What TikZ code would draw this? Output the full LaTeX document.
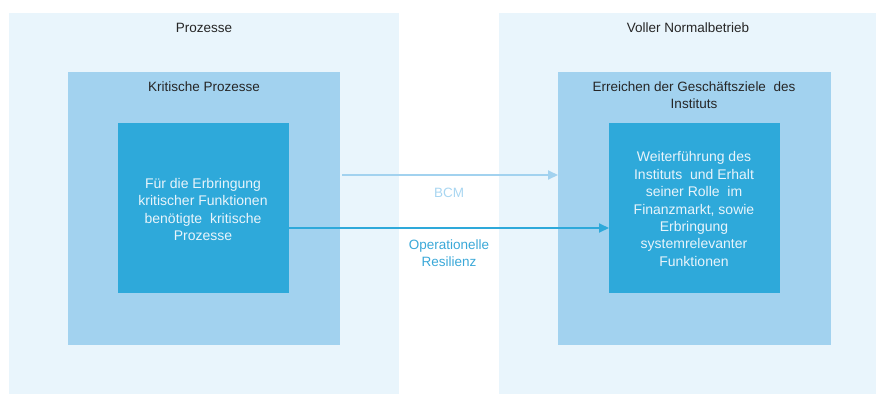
\documentclass[tikz,border=0pt]{standalone}
\usepackage{fontspec}
\setmainfont{Liberation Sans}
\usetikzlibrary{arrows.meta,calc}
\definecolor{outerc}{HTML}{E9F5FC}
\definecolor{midc}{HTML}{A2D2EF}
\definecolor{innerc}{HTML}{2EA9DA}
\definecolor{titlec}{HTML}{262626}
\definecolor{innertxt}{HTML}{E8F4FB}
\definecolor{bcmtxt}{HTML}{A9D6F1}
\definecolor{optxt}{HTML}{3AA8D8}
\tikzset{
  box/.style={anchor=north west,inner sep=0pt,outer sep=0pt,draw=none},
  outerbox/.style={box,fill=outerc},
  midbox/.style={box,fill=midc},
  innerbox/.style={box,fill=innerc},
  title/.style={text=titlec,font=\fontsize{13.5}{16.7}\selectfont,align=center,inner sep=0pt},
  innertext/.style={text=innertxt,font=\fontsize{14}{17.4}\selectfont,align=center,inner sep=0pt},
  conn/.style={line width=2pt,-{Triangle[length=10pt,width=9pt]}},
}
\begin{document}
\begin{tikzpicture}[x=1pt,y=-1pt]
\useasboundingbox (0,0) rectangle (876,394);
% outer boxes
\node[outerbox,minimum width=390pt,minimum height=381pt] (lo) at (9,13) {};
\node[outerbox,minimum width=377pt,minimum height=381pt] (ro) at (499,13) {};
% middle boxes
\node[midbox,minimum width=272pt,minimum height=273pt] (lm) at (68,72) {};
\node[midbox,minimum width=273pt,minimum height=273pt] (rm) at (558,72) {};
% inner boxes
\node[innerbox,minimum width=171pt,minimum height=170pt] (li) at (118,123) {};
\node[innerbox,minimum width=171pt,minimum height=170pt] (ri) at (609,123) {};
% titles
\node[title] (tlo) at (204,28) {Prozesse};
\node[title] (tro) at (688,28) {Voller Normalbetrieb};
\node[title] (tlm) at (204,87) {Kritische Prozesse};
\node[title] (trm) at (694,95) {Erreichen der Geschäftsziele\ \ des\\Instituts};
% inner texts
\node[innertext] (tli) at (203,209.5) {Für die Erbringung\\kritischer Funktionen\\benötigte\ \ kritische\\Prozesse};
\node[innertext] (tri) at (694,209) {Weiterführung des\\Instituts\ \ und Erhalt\\seiner Rolle\ \ im\\Finanzmarkt, sowie\\Erbringung\\systemrelevanter\\Funktionen};
% connectors
\coordinate (bcmstart) at ($(lm.east)+(2,0)$);
\coordinate (bcmy) at (0,175);
\draw[conn,draw=midc] (bcmstart |- bcmy) -- (rm.west |- bcmy);
\coordinate (opy) at (0,228);
\draw[conn,draw=innerc] (li.east |- opy) -- (ri.west |- opy);
% connector labels
\node[text=bcmtxt,font=\fontsize{13.5}{16.7}\selectfont,inner sep=0pt] (lbcm) at (449,193) {BCM};
\node[text=optxt,font=\fontsize{13.5}{17.5}\selectfont,align=center,inner sep=0pt] (lop) at (449,253) {Operationelle\\Resilienz};
\end{tikzpicture}
\end{document}
